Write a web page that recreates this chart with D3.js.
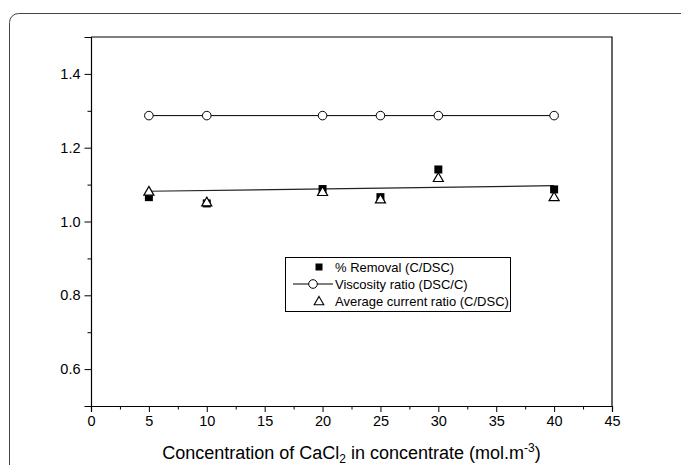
<!DOCTYPE html>
<html>
<head>
<meta charset="utf-8">
<script src="https://cdn.jsdelivr.net/npm/d3@7"></script>
<style>
  html, body { margin: 0; padding: 0; background: #fff; }
  svg { display: block; font-family: "Liberation Sans", Arial, sans-serif; }
</style>
</head>
<body>
<svg id="chart" width="681" height="465"></svg>
<script>
// CaCl2 concentration in the concentrate (mol.m-3)
const concentrations = [5, 10, 20, 25, 30, 40];
// Ratios measured at each concentration
const removalRatio   = [1.066, 1.049, 1.088, 1.066, 1.141, 1.087];
const viscosityRatio = [1.287, 1.287, 1.287, 1.287, 1.287, 1.287];
const currentRatio   = [1.082, 1.053, 1.081, 1.061, 1.119, 1.067];
// Straight trend line through the ratio data
const trendX = [5, 40];
const trendY = [1.082, 1.097];

const xMajor = [0, 5, 10, 15, 20, 25, 30, 35, 40, 45];
const xMinor = [2.5, 7.5, 12.5, 17.5, 22.5, 27.5, 32.5, 37.5, 42.5];
const yMajor = [0.6, 0.8, 1.0, 1.2, 1.4];
const yMinor = [0.5, 0.7, 0.9, 1.1, 1.3, 1.5];

const legendLabels = ["% Removal (C/DSC)", "Viscosity ratio (DSC/C)", "Average current ratio (C/DSC)"];

const svg = d3.select("#chart");

// Rounded outer panel (runs off the right and bottom edges)
svg.append("rect")
  .attr("x", 9.5).attr("y", 13.5)
  .attr("width", 720).attr("height", 500)
  .attr("rx", 9).attr("ry", 9)
  .attr("fill", "none").attr("stroke", "#444").attr("stroke-width", 1);

const plotL = 91, plotR = 612, plotT = 37, plotB = 406;
const x = d3.scaleLinear().domain([0, 45]).range([plotL, plotR]);
const y = d3.scaleLinear().domain([0.5, 1.5]).range([plotB, plotT]);

// Plot frame: top and right edges
svg.append("path")
  .attr("d", `M${plotL},${plotT}H${plotR}V${plotB}`)
  .attr("fill", "none").attr("stroke", "#000").attr("stroke-width", 1.2);

const fontSize = 14.5;

// X axis
const gx = svg.append("g").attr("transform", `translate(0,${plotB})`);
gx.call(d3.axisBottom(x).tickValues(xMajor).tickSize(6).tickPadding(4).tickFormat(d3.format("d")));
gx.append("g").call(d3.axisBottom(x).tickValues(xMinor).tickSize(3.5).tickFormat(""))
  .select(".domain").remove();

// Y axis
const gy = svg.append("g").attr("transform", `translate(${plotL},0)`);
gy.call(d3.axisLeft(y).tickValues(yMajor).tickSize(6.5).tickPadding(4).tickFormat(d3.format(".1f")));
gy.append("g").call(d3.axisLeft(y).tickValues(yMinor).tickSize(3.5).tickFormat(""))
  .select(".domain").remove();

svg.selectAll(".domain").attr("stroke", "#000").attr("stroke-width", 1.2);
svg.selectAll(".tick line").attr("stroke", "#000").attr("stroke-width", 1);
svg.selectAll(".tick text")
  .attr("fill", "#000")
  .style("font-size", fontSize + "px")
  .style("font-family", '"Liberation Sans", Arial, sans-serif');

// X axis title with subscript and superscript
const title = svg.append("text")
  .attr("x", (plotL + plotR) / 2).attr("y", 459)
  .attr("text-anchor", "middle")
  .style("font-size", "18px").attr("fill", "#000");
title.append("tspan").text("Concentration of CaCl");
title.append("tspan").attr("dy", 4).style("font-size", "12px").text("2");
title.append("tspan").attr("dy", -4).text(" in concentrate (mol.m");
title.append("tspan").attr("dy", -7).style("font-size", "12px").text("-3");
title.append("tspan").attr("dy", 7).text(")");

// Trend line
const line = d3.line().x(d => x(d[0])).y(d => y(d[1]));
svg.append("path")
  .datum(d3.zip(trendX, trendY))
  .attr("d", line)
  .attr("fill", "none").attr("stroke", "#222").attr("stroke-width", 1.2);

// Viscosity line
svg.append("path")
  .datum(d3.zip(concentrations, viscosityRatio))
  .attr("d", line)
  .attr("fill", "none").attr("stroke", "#000").attr("stroke-width", 1);

const sqSym = d3.symbol().type(d3.symbolSquare).size(64);
const triSym = d3.symbol().type(d3.symbolTriangle).size(44);

// % Removal: filled squares
svg.append("g").selectAll("path")
  .data(d3.zip(concentrations, removalRatio))
  .join("path")
  .attr("transform", d => `translate(${x(d[0])},${y(d[1])})`)
  .attr("d", sqSym)
  .attr("fill", "#000");

// Viscosity ratio: open circles
svg.append("g").selectAll("circle")
  .data(d3.zip(concentrations, viscosityRatio))
  .join("circle")
  .attr("cx", d => x(d[0])).attr("cy", d => y(d[1]))
  .attr("r", 4.3)
  .attr("fill", "#fff").attr("stroke", "#000").attr("stroke-width", 1);

// Average current ratio: open triangles
svg.append("g").selectAll("path")
  .data(d3.zip(concentrations, currentRatio))
  .join("path")
  .attr("transform", d => `translate(${x(d[0])},${y(d[1]) + 1})`)
  .attr("d", triSym)
  .attr("fill", "#fff").attr("stroke", "#000").attr("stroke-width", 1.2);

// Legend
const lg = svg.append("g").attr("transform", "translate(285,257)");
lg.append("rect")
  .attr("x", 0.5).attr("y", 0.5).attr("width", 225).attr("height", 54)
  .attr("fill", "#fff").attr("stroke", "#000").attr("stroke-width", 1);
const rowY = [10, 27, 44];
const symX = 34;
lg.append("path").attr("transform", `translate(${symX},${rowY[0]})`)
  .attr("d", d3.symbol().type(d3.symbolSquare).size(49)).attr("fill", "#000");
lg.append("line").attr("x1", 8).attr("x2", 48).attr("y1", rowY[1]).attr("y2", rowY[1])
  .attr("stroke", "#000").attr("stroke-width", 1);
lg.append("circle").attr("cx", 28).attr("cy", rowY[1]).attr("r", 4.3)
  .attr("fill", "#fff").attr("stroke", "#000");
lg.append("path").attr("transform", `translate(${symX},${rowY[2] + 1})`)
  .attr("d", d3.symbol().type(d3.symbolTriangle).size(40))
  .attr("fill", "#fff").attr("stroke", "#000").attr("stroke-width", 1.1);
lg.selectAll("text.lbl")
  .data(legendLabels)
  .join("text")
  .attr("class", "lbl")
  .attr("x", 50).attr("y", (d, i) => rowY[i] + 4.5)
  .style("font-size", "13px").attr("fill", "#000")
  .text(d => d);
</script>
</body>
</html>
